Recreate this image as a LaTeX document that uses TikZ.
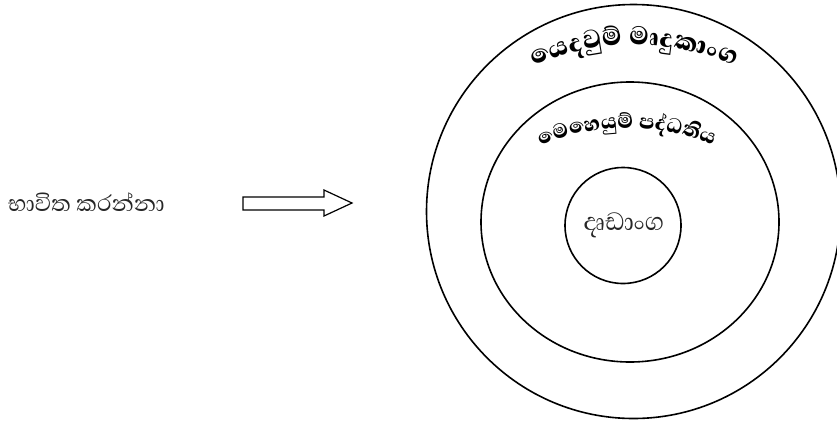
\documentclass[tikz,border=0pt]{standalone}
\usepackage{fontspec}
\usetikzlibrary{decorations.text}
\newfontfamily\sinfont[Script=Sinhala]{Abhaya Libre}
\newfontfamily\sinheavy[Script=Sinhala]{Abhaya Libre ExtraBold}
\tikzset{
  ring/.style={draw=black, line width=1.6pt},
  plainlabel/.style={text=black!85, inner sep=0pt},
}

\begin{document}
\begin{tikzpicture}[x=1pt,y=-1pt]
\useasboundingbox (0,0) rectangle (837,421);
% layers
\draw[ring] (633.5,211.5) circle[radius=207];
\draw[ring] (630,222) ellipse[x radius=149, y radius=140];
\draw[ring] (623,225.5) circle[radius=58];
% arched titles
\path[decorate, decoration={text along path, text align=center,
  text={|\sinheavy\fontsize{33}{33}\selectfont|{යෙ}{ද}{වු}{ම්} {මෘ}{දු}{කාං}{ග}}}]
  (634,291) ++(235:246) arc[start angle=235, end angle=305, radius=246];
\path[decorate, decoration={text along path, text align=center,
  text={|\sinheavy\fontsize{26.5}{26.5}\selectfont|{මෙ}{හෙ}{යු}{ම්} {ප}{ද්}{ධ}{ති}{ය}}}]
  (627,346) ++(235:218) arc[start angle=235, end angle=305, radius=218];
% labels
\node[plainlabel, font={\sinfont\fontsize{32}{32}\selectfont}, anchor=base] (core) at (624,230) {දෘඩාංග};
\node[plainlabel, font={\sinfont\fontsize{29}{29}\selectfont}, anchor=base west] (user) at (8,211) {භාවිත කරන්නා};
% arrow
\draw[line width=1.2pt] (243,197) -- (324,197) -- (324,190) -- (352,203)
  -- (324,216) -- (324,210) -- (243,210) -- cycle;
\end{tikzpicture}
\end{document}
